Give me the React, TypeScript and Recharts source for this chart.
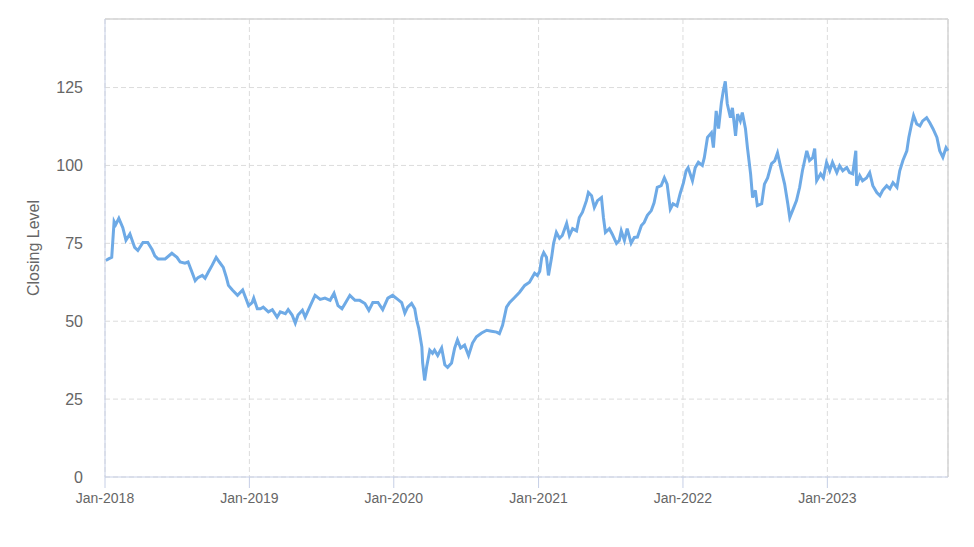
import React from "react";
import { LineChart, Line, XAxis, YAxis, CartesianGrid, ReferenceLine } from "recharts";

// Closing level, every week or two
const dates = [
  // 2018
  "2018-01-03", "2018-01-10", "2018-01-18", "2018-01-24", "2018-01-28", "2018-02-05", "2018-02-15", "2018-02-23",
  "2018-03-05", "2018-03-17", "2018-03-25", "2018-04-07", "2018-04-19", "2018-04-30", "2018-05-07", "2018-05-15",
  "2018-06-02", "2018-06-19", "2018-07-02", "2018-07-10", "2018-07-22", "2018-07-30", "2018-08-09", "2018-08-17",
  "2018-08-24", "2018-09-04", "2018-09-11", "2018-09-19", "2018-09-29", "2018-10-09", "2018-10-17", "2018-10-27",
  "2018-11-04", "2018-11-09", "2018-11-19", "2018-12-02", "2018-12-15", "2018-12-22", "2018-12-30",
  // 2019
  "2019-01-08", "2019-01-12", "2019-01-21", "2019-01-29", "2019-02-05", "2019-02-18", "2019-02-28", "2019-03-12",
  "2019-03-20", "2019-04-02", "2019-04-09", "2019-04-19", "2019-04-27", "2019-05-04", "2019-05-15", "2019-05-22",
  "2019-06-04", "2019-06-16", "2019-06-29", "2019-07-11", "2019-07-24", "2019-08-03", "2019-08-13", "2019-08-23",
  "2019-08-31", "2019-09-12", "2019-09-25", "2019-10-07", "2019-10-20", "2019-10-30", "2019-11-09", "2019-11-22",
  "2019-12-04", "2019-12-17", "2019-12-29",
  // 2020
  "2020-01-04", "2020-01-11", "2020-01-21", "2020-01-29", "2020-02-05", "2020-02-15", "2020-02-23", "2020-02-28",
  "2020-03-04", "2020-03-12", "2020-03-14", "2020-03-19", "2020-03-24", "2020-04-01", "2020-04-08", "2020-04-13",
  "2020-04-21", "2020-05-01", "2020-05-09", "2020-05-16", "2020-05-26", "2020-06-03", "2020-06-10", "2020-06-18",
  "2020-06-28", "2020-07-08", "2020-07-18", "2020-07-28", "2020-08-10", "2020-08-23", "2020-09-04", "2020-09-17",
  "2020-09-24", "2020-10-02", "2020-10-12", "2020-10-20", "2020-11-02", "2020-11-14", "2020-11-27", "2020-12-09",
  "2020-12-22", "2020-12-29",
  // 2021
  "2021-01-04", "2021-01-09", "2021-01-14", "2021-01-21", "2021-01-26", "2021-02-03", "2021-02-08", "2021-02-15",
  "2021-02-23", "2021-03-02", "2021-03-13", "2021-03-20", "2021-03-28", "2021-04-07", "2021-04-14", "2021-04-22",
  "2021-05-02", "2021-05-07", "2021-05-15", "2021-05-22", "2021-05-30", "2021-06-09", "2021-06-14", "2021-06-19",
  "2021-06-29", "2021-07-06", "2021-07-17", "2021-07-24", "2021-07-29", "2021-08-06", "2021-08-13", "2021-08-23",
  "2021-08-31", "2021-09-08", "2021-09-18", "2021-09-25", "2021-10-03", "2021-10-13", "2021-10-20", "2021-10-28",
  "2021-11-07", "2021-11-15", "2021-11-22", "2021-11-30", "2021-12-07", "2021-12-17", "2021-12-25",
  // 2022
  "2022-01-02", "2022-01-09", "2022-01-14", "2022-01-25", "2022-02-01", "2022-02-09", "2022-02-19", "2022-02-24",
  "2022-03-04", "2022-03-14", "2022-03-19", "2022-03-26", "2022-04-01", "2022-04-08", "2022-04-13", "2022-04-18",
  "2022-04-23", "2022-05-01", "2022-05-06", "2022-05-14", "2022-05-19", "2022-05-26", "2022-05-31", "2022-06-08",
  "2022-06-13", "2022-06-21", "2022-06-26", "2022-07-03", "2022-07-08", "2022-07-19", "2022-07-26", "2022-08-03",
  "2022-08-13", "2022-08-21", "2022-08-28", "2022-09-07", "2022-09-15", "2022-09-23", "2022-09-28", "2022-10-05",
  "2022-10-15", "2022-10-23", "2022-10-30", "2022-11-10", "2022-11-17", "2022-11-25", "2022-11-30", "2022-12-05",
  "2022-12-15", "2022-12-22", "2022-12-30",
  // 2023
  "2023-01-07", "2023-01-14", "2023-01-25", "2023-02-01", "2023-02-09", "2023-02-19", "2023-02-26", "2023-03-06",
  "2023-03-14", "2023-03-16", "2023-03-24", "2023-03-31", "2023-04-10", "2023-04-18", "2023-04-26", "2023-05-06",
  "2023-05-14", "2023-05-21", "2023-05-31", "2023-06-08", "2023-06-16", "2023-06-26", "2023-07-03", "2023-07-11",
  "2023-07-21", "2023-07-26", "2023-08-02", "2023-08-07", "2023-08-15", "2023-08-23", "2023-08-30", "2023-09-09",
  "2023-09-17", "2023-09-25", "2023-10-05", "2023-10-12", "2023-10-20", "2023-10-28", "2023-11-02",
];

const closing = [
  // 2018
  69.5, 70, 70.5, 82, 81, 83, 80, 76,
  78, 73.7, 72.7, 75.3, 75.3, 73, 71, 70,
  70, 71.8, 70.5, 69, 68.6, 69, 65.7, 63,
  64, 64.7, 63.8, 65.7, 68, 70.5, 69, 67.3,
  64, 61.5, 60, 58.3, 60, 57.7, 55,
  // 2019
  56, 57.4, 54, 54, 54.5, 53, 53.7, 51.3,
  53, 52.4, 53.7, 52, 49.4, 52, 53.5, 51.3,
  55, 58.3, 57, 57.4, 56.7, 59, 55, 54,
  55.7, 58.3, 56.7, 56.7, 55.7, 53.5, 56, 56,
  53.7, 57.4, 58.3,
  // 2020
  57.7, 57, 56, 52.6, 54.5, 55.7, 54, 50.3,
  47.8, 41.7, 36.6, 31, 35.3, 40.7, 39.7, 40.7,
  39, 41.4, 36, 35.2, 36.6, 41.4, 44, 41.4,
  42.3, 39, 43, 45, 46.2, 47.1, 46.8, 46.5,
  46, 48.7, 54.5, 56, 57.7, 59.3, 61.5, 62.5,
  65.4, 64.7,
  // 2021
  66, 70.5, 72, 70.5, 64.7, 70.5, 75, 78.5,
  76.6, 77.5, 81.4, 77.5, 79.7, 79, 83.3, 85,
  88.7, 91.3, 90.3, 86.5, 88.7, 89.7, 83.3, 78.5,
  79.7, 78, 75, 75.9, 79, 75.9, 79.7, 75,
  76.9, 77, 80.7, 81.7, 84, 85.5, 88, 93,
  93.5, 96, 94, 86, 87.7, 87, 91,
  // 2022
  94.3, 98.3, 99.3, 95.1, 99.3, 101, 100, 102.5,
  109, 110.5, 105.7, 117.5, 111.8, 120, 124, 127,
  119.8, 115.3, 118.5, 109.5, 116.5, 114.3, 117, 111.8,
  105.7, 97.3, 89.7, 92, 87.1, 87.7, 94, 96,
  100.6, 101.5, 104, 98.3, 94, 87.7, 83.3, 85.5,
  88.7, 93, 98.3, 104.7, 101.6, 102.5, 105.4, 95.1,
  97.3, 96, 101,
  // 2023
  98.3, 101, 97.7, 99.9, 98.3, 99.3, 97.7, 97.3,
  104.7, 93.5, 96.7, 95.1, 96, 97.7, 93.5, 91.3,
  90.3, 92, 93.5, 92.5, 94.5, 93, 98.3, 101.6,
  104.7, 109, 113.3, 116, 113.3, 112.7, 114.3, 115.3,
  113.7, 111.8, 109, 104.7, 102.6, 105.7, 104.7,
];

const yTicks = [0, 25, 50, 75, 100, 125];
const tickYears = [2018, 2019, 2020, 2021, 2022, 2023];
const Y_MAX = 147;

const X_START = Date.UTC(2018, 0, 1);
const X_END = Date.UTC(2023, 10, 2);
const xTicks = tickYears.map((y) => Date.UTC(y, 0, 1));

const data = dates.map((d, i) => ({ t: Date.parse(d), value: closing[i] }));

const fmtTick = (v: number) => "Jan-" + new Date(v).getUTCFullYear();

export default function App() {
  return (
    <div style={{ position: "absolute", left: 0, top: 0, background: "#fff", fontFamily: "'Liberation Sans', Arial, sans-serif" }}>
      <LineChart width={974} height={547} data={data} margin={{ top: 19, right: 26, bottom: 40, left: 0 }}>
        <CartesianGrid stroke="#dcdcdc" strokeDasharray="5 3" />
        <XAxis
          dataKey="t"
          type="number"
          scale="time"
          domain={[X_START, X_END]}
          ticks={xTicks}
          tickFormatter={fmtTick}
          height={30}
          stroke="#c6cfe6"
          tickSize={11}
          tickMargin={5}
          tick={{ fill: "#666", fontSize: 14 }}
        />
        <YAxis
          type="number"
          domain={[0, Y_MAX]}
          ticks={yTicks}
          width={105}
          stroke="#c6cfe6"
          tickLine={false}
          tickSize={0}
          tickMargin={22}
          tick={{ fill: "#666", fontSize: 16 }}
          label={{ value: "Closing Level", angle: -90, position: "insideLeft", offset: 33, fill: "#666", fontSize: 16, style: { textAnchor: "middle" } }}
        />
        <ReferenceLine y={Y_MAX} stroke="#d4d4d4" strokeWidth={1.5} />
        <ReferenceLine x={X_END} stroke="#d4d4d4" strokeWidth={1.5} />
        <Line
          type="linear"
          dataKey="value"
          stroke="#6eaae6"
          strokeWidth={3}
          dot={false}
          isAnimationActive={false}
        />
      </LineChart>
    </div>
  );
}
